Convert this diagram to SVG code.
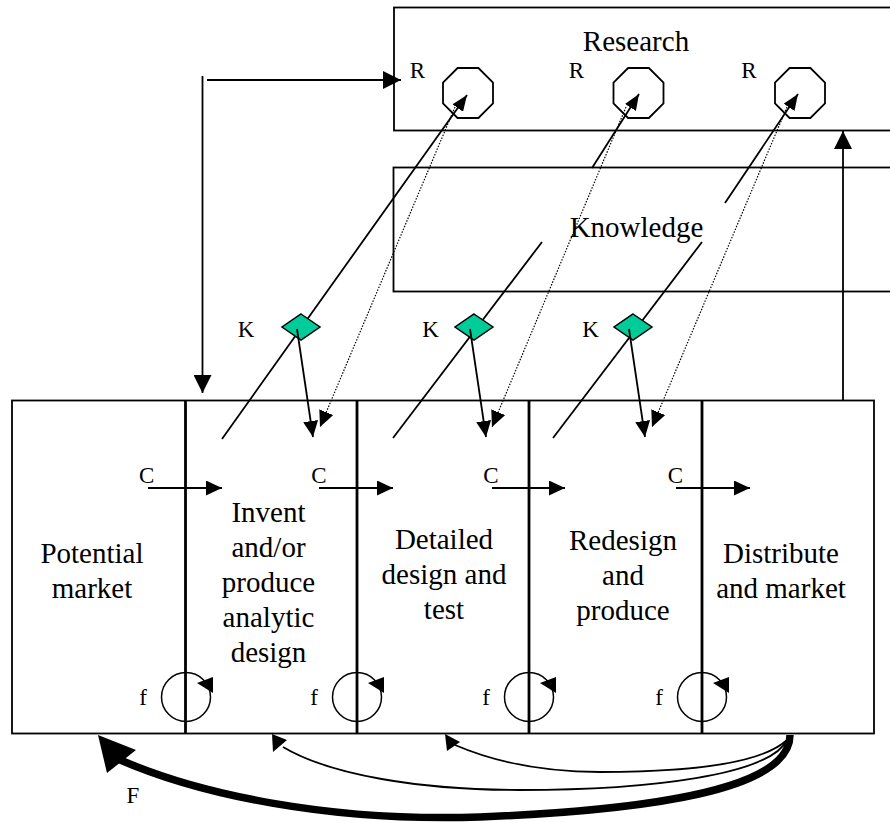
<svg xmlns="http://www.w3.org/2000/svg" xmlns:xlink="http://www.w3.org/1999/xlink" width="890" height="823" viewBox="0 0 890 823">
  <style>
    .box { fill: none; stroke: #000; stroke-width: 1.8; }
    .div { stroke: #000; stroke-width: 2.8; }
    .ln { fill: none; stroke: #000; stroke-width: 1.8; }
    .dot { fill: none; stroke: #000; stroke-width: 1.2; stroke-dasharray: 1.5 1.5; }
    .oct { fill: none; stroke: #000; stroke-width: 1.8; }
    .dia { fill: #00CC99; stroke: #000; stroke-width: 1.5; }
    .loop { fill: none; stroke: #000; stroke-width: 1.5; }
    .big { font-family: "Liberation Serif", "Times New Roman", serif; font-size: 29px; text-anchor: middle; fill: #000; }
    .lab { font-family: "Liberation Serif", "Times New Roman", serif; font-size: 23px; text-anchor: middle; fill: #000; }
  </style>
  <defs>
    <marker id="headL" viewBox="0 0 18 18" refX="18" refY="9" markerWidth="18" markerHeight="18" orient="auto" markerUnits="userSpaceOnUse">
      <path d="M0,0 L18,9 L0,18 z" fill="#000"/>
    </marker>
    <marker id="headM" viewBox="0 0 16 15" refX="16" refY="7.5" markerWidth="16" markerHeight="15" orient="auto" markerUnits="userSpaceOnUse">
      <path d="M0,0 L16,7.5 L0,15 z" fill="#000"/>
    </marker>
    <marker id="headS" viewBox="0 0 16 13" refX="16" refY="6.5" markerWidth="16" markerHeight="13" orient="auto" markerUnits="userSpaceOnUse">
      <path d="M0,0 L16,6.5 L0,13 z" fill="#000"/>
    </marker>
    <!-- research activity octagon, centred on 0,0 -->
    <polygon id="octShape" class="oct" points="-10.4,-25 10.4,-25 25,-10.4 25,10.4 10.4,25 -10.4,25 -25,10.4 -25,-10.4"/>
    <!-- knowledge store diamond, centred on 0,0 -->
    <polygon id="diaShape" class="dia" points="0,-13 19,0 0,13 -19,0"/>
  </defs>

  <!-- Research layer -->
  <g id="research">
    <rect class="box" x="394" y="7.5" width="520" height="123"/>
    <text class="big" x="636" y="51">Research</text>
  </g>
  <g id="research-points">
    <use xlink:href="#octShape" x="468" y="93"/>
    <use xlink:href="#octShape" x="638.5" y="93"/>
    <use xlink:href="#octShape" x="800" y="93"/>
    <text class="lab" x="417.5" y="78">R</text>
    <text class="lab" x="576.5" y="78">R</text>
    <text class="lab" x="749" y="78">R</text>
  </g>

  <!-- Knowledge layer -->
  <g id="knowledge">
    <rect class="box" x="393.5" y="167.5" width="520" height="124"/>
    <text class="big" x="636.5" y="237">Knowledge</text>
  </g>

  <!-- Process chain -->
  <g id="process-frame">
    <rect class="box" x="12" y="400.5" width="862" height="333"/>
  </g>
  <g id="potential-market">
    <text class="big" x="92" y="563">Potential</text>
    <text class="big" x="92" y="598">market</text>
  </g>
  <g id="invent">
    <line class="div" x1="185.5" y1="400" x2="185.5" y2="734"/>
    <text class="big" x="268.5" y="522">Invent</text>
    <text class="big" x="268.5" y="557">and/or</text>
    <text class="big" x="268.5" y="592">produce</text>
    <text class="big" x="268.5" y="627">analytic</text>
    <text class="big" x="268.5" y="662">design</text>
  </g>
  <g id="detailed-design">
    <line class="div" x1="357" y1="400" x2="357" y2="734"/>
    <text class="big" x="444" y="549">Detailed</text>
    <text class="big" x="444" y="584">design and</text>
    <text class="big" x="444" y="619">test</text>
  </g>
  <g id="redesign">
    <line class="div" x1="529" y1="400" x2="529" y2="734"/>
    <text class="big" x="623" y="550">Redesign</text>
    <text class="big" x="623" y="585">and</text>
    <text class="big" x="623" y="620">produce</text>
  </g>
  <g id="distribute">
    <line class="div" x1="702" y1="400" x2="702" y2="734"/>
    <text class="big" x="781" y="563">Distribute</text>
    <text class="big" x="781" y="598">and market</text>
  </g>

  <!-- Connectors -->
  <g id="connectors">
    <!-- market to research and back -->
    <path class="ln" d="M202.5,76 V393" marker-end="url(#headL)"/>
    <path class="ln" d="M207,80 H401" marker-end="url(#headL)"/>
    <path class="ln" d="M843,400 V131" marker-end="url(#headL)"/>

    <!-- stages to knowledge and research -->
    <path class="ln" d="M222,439 L467,95" marker-end="url(#headS)"/>
    <path class="ln" d="M393,438 L542,242"/>
    <path class="ln" d="M592,168 L639,94" marker-end="url(#headS)"/>
    <path class="ln" d="M553,438 L702,242"/>
    <path class="ln" d="M725,203 L798,94" marker-end="url(#headS)"/>

    <!-- research back down to stages -->
    <path class="dot" d="M455,107 L320,427" marker-end="url(#headM)"/>
    <path class="dot" d="M626,107 L492,427" marker-end="url(#headM)"/>
    <path class="dot" d="M787,107 L652,427" marker-end="url(#headM)"/>

    <!-- coupling arrows between stages -->
    <path class="ln" d="M148,488 H222" marker-end="url(#headM)"/>
    <path class="ln" d="M319,488 H393" marker-end="url(#headM)"/>
    <path class="ln" d="M492,488 H565" marker-end="url(#headM)"/>
    <path class="ln" d="M676,488 H750" marker-end="url(#headM)"/>

    <!-- feedback from the market -->
    <path fill="none" stroke="#000" stroke-width="7.5" d="M790,735 C790,790 650,810 480,817 C330,822 200,795 118,759"/>
    <polygon points="98,735 136,750 107,773" fill="#000"/>
    <path class="ln" d="M787,740 C770,775 650,790 520,790 C420,790 330,775 283,747"/>
    <polygon points="272,734 287,740 273,752" fill="#000"/>
    <path class="ln" d="M787,740 C760,765 680,772 600,772 C540,772 490,760 455,745"/>
    <polygon points="445,734 460,742 447,751" fill="#000"/>
  </g>

  <!-- Knowledge points -->
  <g id="knowledge-points">
    <use xlink:href="#diaShape" x="301" y="327"/>
    <use xlink:href="#diaShape" x="474" y="327"/>
    <use xlink:href="#diaShape" x="633" y="327"/>
    <text class="lab" x="246" y="337">K</text>
    <text class="lab" x="430.5" y="337">K</text>
    <text class="lab" x="590.5" y="337">K</text>
  </g>
  <g id="knowledge-flows">
    <path class="ln" d="M297,329 L313,437" marker-end="url(#headM)"/>
    <path class="ln" d="M470,329 L486,437" marker-end="url(#headM)"/>
    <path class="ln" d="M629,329 L645,437" marker-end="url(#headM)"/>
  </g>

  <!-- Coupling labels -->
  <g id="coupling-labels">
    <text class="lab" x="146.7" y="483">C</text>
    <text class="lab" x="319" y="483">C</text>
    <text class="lab" x="491" y="483">C</text>
    <text class="lab" x="675.3" y="483">C</text>
  </g>

  <!-- Local feedback loops -->
  <g id="loop-1">
    <circle class="loop" cx="186" cy="697" r="24.5"/>
    <polygon points="197,683 213,677 213,693" fill="#000"/>
    <text class="lab" x="143" y="705">f</text>
  </g>
  <g id="loop-2">
    <circle class="loop" cx="357" cy="697" r="24.5"/>
    <polygon points="368,683 384,677 384,693" fill="#000"/>
    <text class="lab" x="314" y="705">f</text>
  </g>
  <g id="loop-3">
    <circle class="loop" cx="529" cy="697" r="24.5"/>
    <polygon points="540,683 556,677 556,693" fill="#000"/>
    <text class="lab" x="486" y="705">f</text>
  </g>
  <g id="loop-4">
    <circle class="loop" cx="702" cy="697" r="24.5"/>
    <polygon points="713,683 729,677 729,693" fill="#000"/>
    <text class="lab" x="659" y="705">f</text>
  </g>

  <g id="market-feedback-label">
    <text class="lab" x="133" y="803">F</text>
  </g>
</svg>
